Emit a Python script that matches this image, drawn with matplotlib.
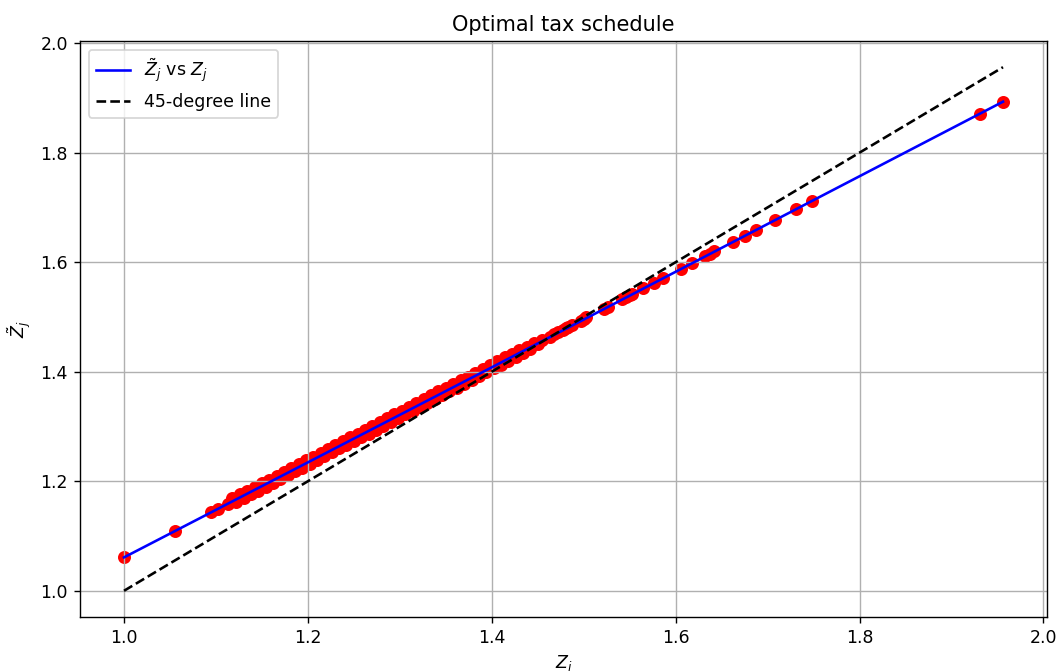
import matplotlib
matplotlib.use("Agg")
import matplotlib.pyplot as plt

# Z_j values
z_j = [1.000, 1.056, 1.095, 1.102, 1.113,
       1.118, 1.122, 1.126, 1.130, 1.134, 1.138, 1.142, 1.146, 1.150, 1.154,
       1.158, 1.162, 1.166, 1.170, 1.174, 1.178, 1.182, 1.186, 1.190, 1.194,
       1.198, 1.202, 1.206, 1.210, 1.214, 1.218, 1.222, 1.226, 1.230, 1.234,
       1.238, 1.242, 1.246, 1.250, 1.254, 1.258, 1.262, 1.266, 1.270, 1.274,
       1.278, 1.282, 1.286, 1.290, 1.294, 1.298, 1.302, 1.306, 1.310, 1.314,
       1.318, 1.322, 1.326, 1.330, 1.334, 1.338, 1.342, 1.346, 1.350, 1.354,
       1.358, 1.362, 1.366, 1.370, 1.374, 1.378, 1.382, 1.386, 1.390, 1.394,
       1.398, 1.402, 1.406, 1.410, 1.414, 1.418, 1.422, 1.426, 1.430, 1.434,
       1.438, 1.442, 1.446, 1.450,
       1.455, 1.463, 1.468, 1.472, 1.477, 1.481, 1.483, 1.487,
       1.497, 1.500, 1.503, 1.522, 1.526, 1.542, 1.546, 1.550, 1.553, 1.565,
       1.576, 1.586, 1.606, 1.618, 1.632, 1.637, 1.642, 1.662, 1.675, 1.687,
       1.708, 1.731, 1.748, 1.931, 1.956]

# tilde Z_j values
zt_j = [1.061, 1.110, 1.144, 1.150, 1.159,
        1.169, 1.162, 1.176, 1.169, 1.183, 1.176, 1.190, 1.183, 1.197, 1.190,
        1.203, 1.197, 1.210, 1.204, 1.217, 1.211, 1.224, 1.218, 1.231, 1.225,
        1.238, 1.232, 1.245, 1.239, 1.252, 1.246, 1.259, 1.253, 1.266, 1.260,
        1.273, 1.267, 1.280, 1.274, 1.287, 1.280, 1.294, 1.287, 1.301, 1.294,
        1.308, 1.301, 1.315, 1.308, 1.322, 1.315, 1.329, 1.322, 1.336, 1.329,
        1.343, 1.336, 1.350, 1.343, 1.357, 1.350, 1.364, 1.357, 1.371, 1.364,
        1.377, 1.371, 1.384, 1.378, 1.391, 1.385, 1.398, 1.392, 1.405, 1.399,
        1.412, 1.406, 1.419, 1.413, 1.426, 1.420, 1.433, 1.427, 1.440, 1.434,
        1.446, 1.442, 1.452, 1.450,
        1.457, 1.464, 1.468, 1.472, 1.476, 1.480, 1.482, 1.485,
        1.493, 1.496, 1.499, 1.515, 1.519, 1.533, 1.536, 1.540, 1.542, 1.553,
        1.562, 1.571, 1.588, 1.599, 1.611, 1.615, 1.620, 1.637, 1.648, 1.659,
        1.677, 1.697, 1.712, 1.871, 1.893]

# blue schedule line
line_z = [1.000, 1.400, 1.956]
line_zt = [1.061, 1.408, 1.893]

fig = plt.figure(figsize=(8.48, 5.368), dpi=125)
ax = fig.add_subplot(111)
fig.subplots_adjust(left=0.0755, right=0.9877, bottom=0.0805, top=0.9389)

ax.scatter(z_j, zt_j, color='red', s=42)
ax.plot(line_z, line_zt, color='blue', label=r'$\tilde{Z}_j$ vs $Z_j$')
ax.plot([min(z_j), max(z_j)], [min(z_j), max(z_j)], 'k--', label='45-degree line')

ax.set_xlabel(r'$Z_j$')
ax.set_ylabel(r'$\tilde{Z}_j$')
ax.set_title('Optimal tax schedule')
ax.legend(loc='upper left')
ax.grid(True)

fig.savefig('out.png', dpi=125)
